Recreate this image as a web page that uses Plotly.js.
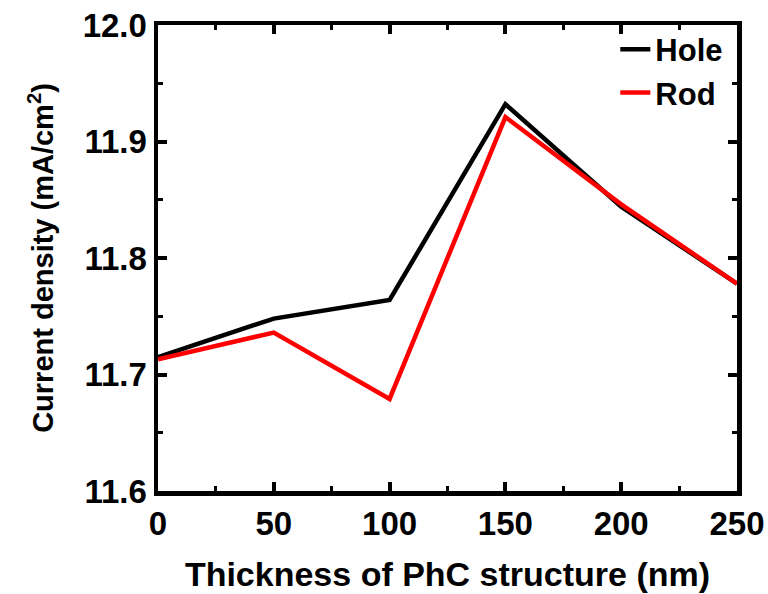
<!DOCTYPE html>
<html>
<head>
<meta charset="utf-8">
<script src="https://cdn.plot.ly/plotly-3.0.1.min.js"></script>
<style>html,body{margin:0;padding:0;background:#fff;}#chart{width:768px;height:594px;}</style>
</head>
<body>
<div id="chart"></div>
<script>
const thickness = [0, 50, 100, 150, 200, 250];
const holeValues = [11.715, 11.748, 11.764, 11.932, 11.844, 11.778];
const rodValues = [11.713, 11.736, 11.679, 11.921, 11.846, 11.778];
const xTicks = [0, 50, 100, 150, 200, 250];
const yTicks = [11.6, 11.7, 11.8, 11.9, 12.0];
const yTickText = ['11.6', '11.7', '11.8', '11.9', '12.0'];

const fontFam = 'Liberation Sans, Arial, sans-serif';
const traces = [
  {x: thickness, y: holeValues, name: 'Hole', mode: 'lines', line: {color: '#000000', width: 4.5}},
  {x: thickness, y: rodValues, name: 'Rod', mode: 'lines', line: {color: '#ff0000', width: 4.5}}
];
const axisCommon = {
  showline: true, linecolor: '#000', linewidth: 4.5, mirror: 'ticks',
  ticks: 'inside', ticklen: 9, tickwidth: 4, tickcolor: '#000',
  showgrid: false, zeroline: false,
  tickfont: {family: fontFam, size: 33, color: '#000', weight: 700}
};
const layout = {
  width: 768, height: 594,
  margin: {l: 158, r: 31, t: 25, b: 103},
  paper_bgcolor: '#fff', plot_bgcolor: '#fff',
  showlegend: true,
  legend: {x: 0.985, y: 1.005, xanchor: 'right', yanchor: 'top', bgcolor: 'rgba(0,0,0,0)',
           font: {family: fontFam, size: 31, color: '#000', weight: 700}, tracegroupgap: 0},
  xaxis: Object.assign({}, axisCommon, {
    range: [0, 250], tickvals: xTicks, ticktext: xTicks.map(String),
    minor: {ticks: 'inside', ticklen: 5, tickwidth: 3, tickcolor: '#000', dtick: 25, showgrid: false},
    title: {text: 'Thickness of PhC structure (nm)', standoff: 22,
            font: {family: fontFam, size: 34, color: '#000', weight: 700}}
  }),
  yaxis: Object.assign({}, axisCommon, {
    range: [11.6, 12.0], tickvals: yTicks, ticktext: yTickText,
    minor: {ticks: 'inside', ticklen: 5, tickwidth: 3, tickcolor: '#000', dtick: 0.05, showgrid: false},
    title: {text: 'Current density (mA/cm<sup>2</sup>)', standoff: 22,
            font: {family: fontFam, size: 29, color: '#000', weight: 700}}
  })
};
Plotly.newPlot('chart', traces, layout, {displayModeBar: false, staticPlot: true});
</script>
</body>
</html>
